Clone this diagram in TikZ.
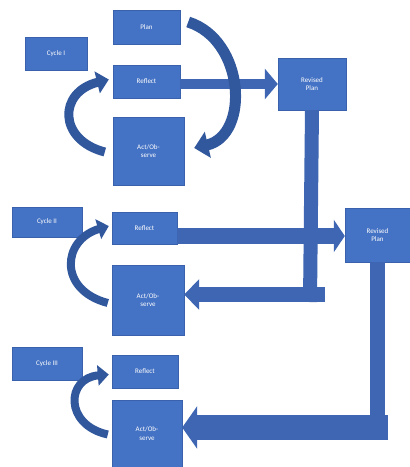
\documentclass[tikz,border=0pt]{standalone}
\usepackage{fontspec}
\setmainfont{Carlito}
\usetikzlibrary{arrows.meta}
\definecolor{boxfill}{HTML}{4472C4}
\definecolor{boxline}{HTML}{3A62AC}
\definecolor{arrowc}{HTML}{3E66B2}
\definecolor{curvc}{HTML}{31579C}
\begin{document}
\begin{tikzpicture}[x=1pt,y=-1pt,
  blk/.style={draw=boxline,fill=boxfill,text=white,font=\fontsize{7}{8.5}\selectfont,align=center,inner sep=1pt},
  flow/.style={draw=arrowc,line width=#1},
  curv/.style={draw=curvc,line width=#1}]
\useasboundingbox (0,0) rectangle (410,467);
\fill[white] (0,0) rectangle (410,467);
% nodes
\node[blk,minimum width=62,minimum height=33] (c1) at (56,53.5) {Cycle I};
\node[blk,minimum width=67,minimum height=34] (plan) at (146.5,27) {Plan};
\node[blk,minimum width=67,minimum height=33] (ref1) at (146.5,81.5) {Reflect};
\node[blk,minimum width=71,minimum height=68] (act1) at (148.5,151) {Act/Ob-\\serve};
\node[blk,minimum width=68,minimum height=52] (rp1) at (312,84) {Revised\\Plan};
\node[blk,minimum width=70,minimum height=30] (c2) at (47,222) {Cycle II};
\node[blk,minimum width=65,minimum height=32] (ref2) at (144.5,228) {Reflect};
\node[blk,minimum width=65,minimum height=54] (rp2) at (377.5,235) {Revised\\Plan};
\node[blk,minimum width=72,minimum height=70] (act2) at (148,300) {Act/Ob-\\serve};
\node[blk,minimum width=70,minimum height=33] (c3) at (47,364) {Cycle III};
\node[blk,minimum width=66,minimum height=33] (ref3) at (145,371.5) {Reflect};
\node[blk,minimum width=70,minimum height=67] (act3) at (147,433.5) {Act/Ob-\\serve};
% coordinates for bends
\coordinate (b1) at (310,302);
\coordinate (s1) at (325,294.5);
\coordinate (b2) at (377.5,440);
\coordinate (s2) at (388,427.5);
% straight arrows
\draw[flow=10,-{Triangle[length=13pt,width=30pt]}] (ref1.east |- rp1.west) -- (rp1.west);
\draw[flow=16,-{Triangle[length=11pt,width=32pt]}] ([yshift=-1pt]ref2.east |- rp2.west) -- ([yshift=-1pt]rp2.west);
\draw[flow=14] (rp1.south) -- (b1);
\draw[flow=15,-{Triangle[length=15pt,width=30pt]}] (s1) -- (act2.east |- s1);
\draw[flow=15] (rp2.south) -- (b2);
\draw[flow=25,-{Triangle[length=15pt,width=42pt]}] (s2) -- (act3.east |- s2);
% curved arrows
\draw[curv=11,-{Triangle[length=14pt,width=26pt]}] ([xshift=8pt,yshift=5pt]plan.east) .. controls (245,40) and (250,135) .. ([xshift=10pt,yshift=3pt]act1.east);
\draw[curv=9,-{Triangle[length=12pt,width=22pt]}] ([xshift=-8pt,yshift=-1pt]act1.west) .. controls (58,140) and (58,92) .. ([xshift=-4pt,yshift=2pt]ref1.west);
\draw[curv=8,-{Triangle[length=11pt,width=20pt]}] ([xshift=-4pt,yshift=-3pt]act2.west) .. controls (58,290) and (62,240) .. ([xshift=-3pt,yshift=2pt]ref2.west);
\draw[curv=8,-{Triangle[length=11pt,width=20pt]}] ([xshift=-4pt,yshift=-1pt]act3.west) .. controls (64,425) and (66,378) .. ([xshift=-3pt,yshift=-3pt]ref3.west);
\end{tikzpicture}
\end{document}
